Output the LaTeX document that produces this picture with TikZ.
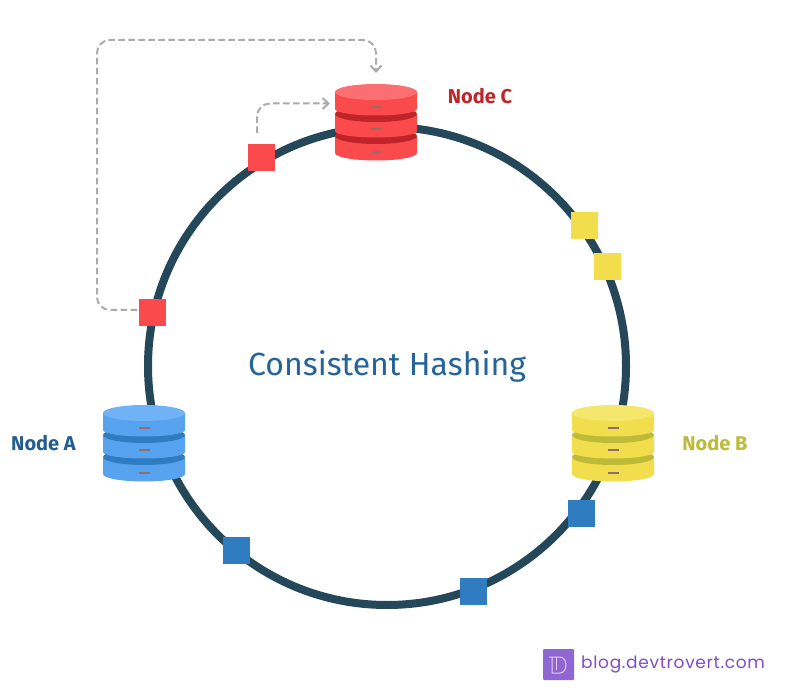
\documentclass[tikz,border=0pt]{standalone}
\usepackage{fontspec}
\setmainfont{Fira Sans}
\newfontfamily\blogfont[LetterSpace=4]{Poppins}
\usetikzlibrary{arrows.meta}
\definecolor{ringc}{HTML}{24475A}
\definecolor{redL}{HTML}{FB6F72}\definecolor{redM}{HTML}{FB4A4C}\definecolor{redD}{HTML}{BE2428}
\definecolor{bluL}{HTML}{6FB2F5}\definecolor{bluM}{HTML}{57A3EF}\definecolor{bluD}{HTML}{2F7DC0}
\definecolor{yelL}{HTML}{F5E66E}\definecolor{yelM}{HTML}{F2DE4C}\definecolor{yelD}{HTML}{BDBB37}
\definecolor{dashc}{HTML}{ABABAB}
\tikzset{
  x=1pt,y=-1pt,
  ring/.style={draw=ringc,line width=8pt},
  token/.style={minimum size=27pt,inner sep=0pt,outer sep=0pt,fill=#1},
  lbl/.style={font=\bfseries\fontsize{20}{24}\selectfont,text=#1,anchor=center,inner sep=0pt},
  flow/.style={draw=dashc,line width=2pt,dash pattern=on 6.5pt off 3.5pt,rounded corners=13pt,
     -{Straight Barb[length=6pt,width=11pt,line width=2pt]}},
  slot/.style={fill=gray!85!red,draw=none},
}
% #1 name, #2 cx, #3 top centre y, #4 light, #5 mid, #6 dark
\newcommand{\dbstack}[6]{%
  \begin{scope}[shift={(#2,#3)}]
    \fill[#5] (-41,44) -- (-41,61) arc[x radius=41,y radius=7.5,start angle=180,end angle=0,y=1pt] -- (41,44) -- cycle;
    \fill[#6] (0,44) ellipse[x radius=41,y radius=8];
    \fill[#5] (-41,22) -- (-41,39) arc[x radius=41,y radius=6.5,start angle=180,end angle=0] -- (41,22) -- cycle;
    \fill[#6] (0,22) ellipse[x radius=41,y radius=8];
    \fill[#5] (-41,0) -- (-41,17) arc[x radius=41,y radius=6.5,start angle=180,end angle=0] -- (41,0) -- cycle;
    \fill[#4] (0,0) ellipse[x radius=41,y radius=8];
    \fill[slot] (-5.5,13.7) rectangle (5.5,16.3);
    \fill[slot] (-5.5,35.7) rectangle (5.5,38.3);
    \fill[slot] (-5.5,58.7) rectangle (5.5,61.3);
    \node[minimum width=82pt,minimum height=76pt,inner sep=0pt,outer sep=0pt] (#1) at (0,30) {};
  \end{scope}}
\begin{document}
\begin{tikzpicture}
\useasboundingbox (0,0) rectangle (795,692);
\fill[white] (0,0) rectangle (795,692);
\node[circle,minimum size=478pt,inner sep=0pt,outer sep=0pt,draw=ringc,line width=8pt] (hashring) at (387,366) {};
\dbstack{dbC}{376}{92}{redL}{redM}{redD}
\dbstack{dbA}{144}{413}{bluL}{bluM}{bluD}
\dbstack{dbB}{613}{413}{yelL}{yelM}{yelD}
\node[token=redM] (r1) at (261,157.5) {};
\node[token=redM] (r2) at (152,313) {};
\node[token=yelM] (y1) at (584.5,225.5) {};
\node[token=yelM] (y2) at (607,266.5) {};
\node[token=bluD] (b1) at (581,513.5) {};
\node[token=bluD] (b2) at (236,550) {};
\node[token=bluD] (b3) at (473,591) {};
\coordinate (r1out) at (257,133);
\coordinate (r1in) at (330,103.5);
\coordinate (r2out) at (137,310);
\coordinate (r2in) at (376,73);
\draw[flow] (r1out) -- (257,103.5) -- (r1in);
\draw[flow] (r2out) -- (97,310) -- (97,40) -- (376,40) -- (r2in);
\node[lbl=redD] (lc) at (480,96) {Node C};
\node[lbl=bluD!75!black] (la) at (43.5,443) {Node A};
\node[lbl=yelD] (lb) at (715,443) {Node B};
\node[font=\fontsize{32}{38}\selectfont,text=bluD!80!black,inner sep=0pt] (title) at (387,366) {Consistent Hashing};
\fill[rounded corners=1pt,fill=violet!55!blue!60] (543,649) rectangle (574,680);
\draw[white!80!violet,line width=1pt] (552,657) -- (552,673) -- (560,673) arc[x radius=6,y radius=8,start angle=90,end angle=-90] -- (549,657);
\draw[white!80!violet,line width=1pt] (556,657) -- (556,670);
\node[font=\blogfont\fontsize{17}{20}\selectfont,text=violet!60!blue!70,anchor=west,inner sep=0pt] (blog) at (581,665) {blog.devtrovert.com};
\end{tikzpicture}
\end{document}
